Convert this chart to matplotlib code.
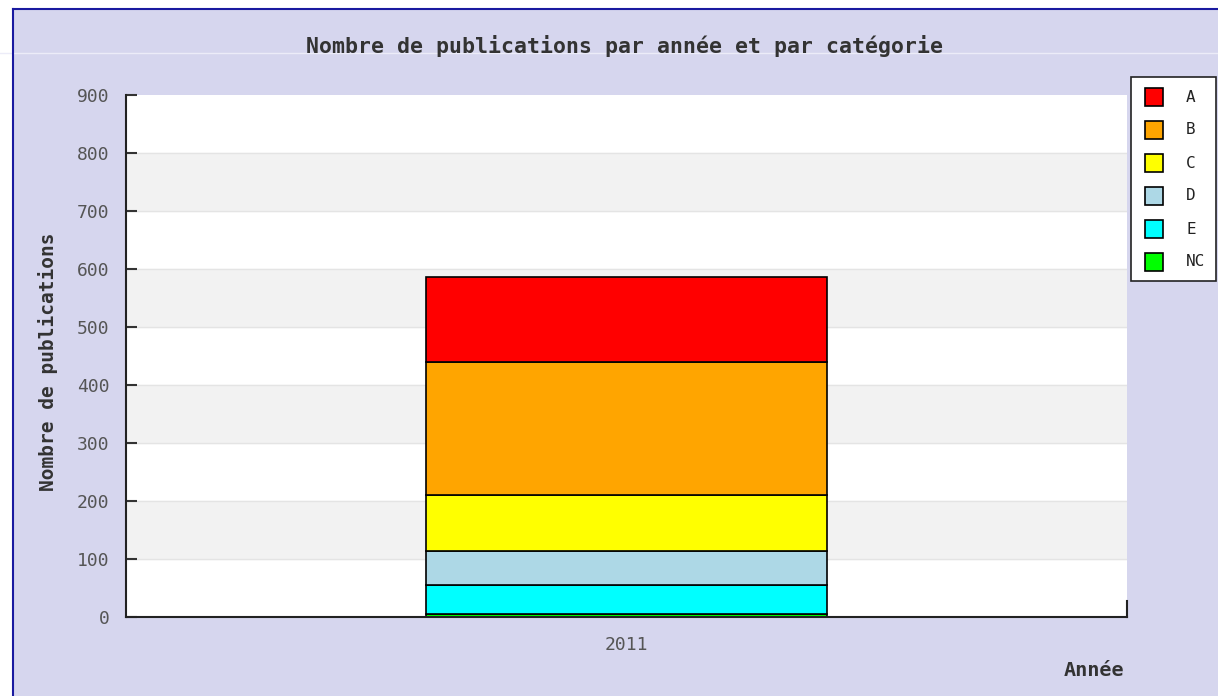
import numpy as np
import matplotlib
matplotlib.use('Agg')
import matplotlib.pyplot as plt
from matplotlib.lines import Line2D
from matplotlib.patches import Rectangle

# data
years = ['2011']
categories = ['A', 'B', 'C', 'D', 'E', 'NC']
values = {'A': [148], 'B': [228], 'C': [98], 'D': [57], 'E': [51], 'NC': [5]}
colors = {'A': '#ff0000', 'B': '#ffa500', 'C': '#ffff00', 'D': '#add8e6', 'E': '#00ffff', 'NC': '#00ff00'}
yticks = list(range(0, 1000, 100))

plt.rcParams['font.family'] = ['DejaVu Sans Mono', 'DejaVu Sans']
bg = '#d6d6ee'

fig = plt.figure(figsize=(12.18, 6.96), dpi=100, facecolor=bg)
W, H = 1218, 696
ax = fig.add_axes([126 / W, 1 - 617 / H, (1127 - 126) / W, (617 - 95) / H])
ax.set_facecolor('white')

# alternating grid bands
for i, lo in enumerate(yticks[:-1]):
    if i % 2 == 1:
        ax.axhspan(lo, lo + 100, color='#f2f2f2', zorder=0)
for t in yticks[1:-1]:
    ax.axhline(t, color='#e4e4e4', lw=1, zorder=0.5)

# stacked bar, bottom category first
x = np.arange(len(years))
bottom = np.zeros(len(years))
for cat in reversed(categories):
    ax.bar(x, values[cat], bottom=bottom, width=0.4, color=colors[cat],
           edgecolor='black', linewidth=1.2, zorder=2)
    bottom += np.array(values[cat])

ax.set_xlim(-0.5, 0.5)
ax.set_ylim(0, 900)
ax.set_yticks(yticks)
ax.set_xticks(x)
ax.set_xticklabels(years)
ax.tick_params(axis='y', direction='in', length=8, width=1.5, colors='#333333',
               labelcolor='#555555', labelsize=13, pad=12)
ax.tick_params(axis='x', length=0, labelcolor='#555555', labelsize=13, pad=14)
for s in ['top', 'right']:
    ax.spines[s].set_visible(False)
for s in ['left', 'bottom']:
    ax.spines[s].set_linewidth(1.5)
    ax.spines[s].set_color('#222222')
# small end tick on the x axis
ax.plot([1, 1], [0, 0.03], transform=ax.transAxes, color='#222222', lw=1.5, clip_on=False)

fig.text(625 / W, 1 - 46 / H, 'Nombre de publications par année et par catégorie',
         ha='center', va='center', fontsize=15.5, fontweight='bold', color='#333333')
fig.text(48 / W, 1 - 362 / H, 'Nombre de publications', rotation=90,
         ha='center', va='center', fontsize=14, fontweight='bold', color='#333333')
fig.text(1124 / W, 1 - 671 / H, 'Année', ha='right', va='center',
         fontsize=14.5, fontweight='bold', color='#333333')

# legend box drawn by hand
fig.add_artist(Rectangle((1131 / W, 1 - 281 / H), (1216 - 1131) / W, (281 - 77) / H,
                         transform=fig.transFigure, facecolor='white',
                         edgecolor='#222222', lw=1.2))
for i, cat in enumerate(categories):
    yc = 97 + i * 33
    fig.add_artist(Rectangle((1145 / W, 1 - (yc + 9) / H), 18 / W, 18 / H,
                             transform=fig.transFigure, facecolor=colors[cat],
                             edgecolor='black', lw=1.2))
    fig.text(1186 / W, 1 - yc / H, cat, ha='left', va='center', fontsize=11.5, color='#222222')

# frame artefacts of the original image
fig.add_artist(Line2D([0, 1], [1 - 53 / H, 1 - 53 / H], transform=fig.transFigure,
                      color='#ececf8', lw=1))
fig.add_artist(Line2D([13 / W, 13 / W], [0, 1 - 9 / H], transform=fig.transFigure,
                      color='#1a1aa0', lw=1.5))
fig.add_artist(Line2D([13 / W, 1], [1 - 9 / H, 1 - 9 / H], transform=fig.transFigure,
                      color='#1a1aa0', lw=1.5))
fig.add_artist(Rectangle((0, 1 - 8 / H), 1, 8 / H, transform=fig.transFigure,
                         facecolor='white', edgecolor='none'))
fig.add_artist(Rectangle((0, 0), 12 / W, 1, transform=fig.transFigure,
                         facecolor='white', edgecolor='none'))

fig.savefig('out.png', dpi=100, facecolor=bg)
